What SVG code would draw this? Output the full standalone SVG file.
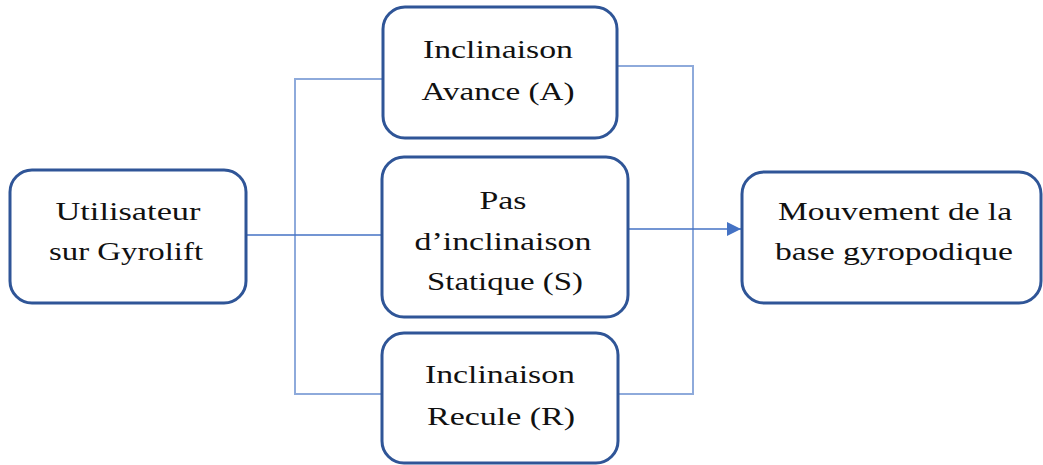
<svg xmlns="http://www.w3.org/2000/svg" width="1043" height="465" viewBox="0 0 1043 465">
<style>
.box{fill:#fff;stroke:#2F5597;stroke-width:3}
.t{font-family:'Liberation Serif','DejaVu Serif','Times New Roman',serif;font-size:26px;fill:#111;text-anchor:middle}
.c{fill:none;stroke:#4472C4;stroke-width:1.6}
.cl{fill:none;stroke:#8EAADB;stroke-width:2}
</style>
<defs>
<marker id="ah" markerWidth="14" markerHeight="14" refX="14" refY="7" orient="auto" markerUnits="userSpaceOnUse">
<path d="M0,0 L14,7 L0,14 z" fill="#4472C4"/>
</marker>
</defs>
<rect width="1043" height="465" fill="#fff"/>
<g id="connectors">
<path class="cl" d="M383,79 H295 V394 H383"/>
<path class="c" d="M246,235 H383"/>
<path class="cl" d="M617,66 H693 V394 H617"/>
<path class="c" d="M628,229 H741" marker-end="url(#ah)"/>
</g>
<g id="n-user">
<rect class="box" x="10" y="170" width="236" height="133" rx="22"/>
<text class="t" x="128" y="220" textLength="145" lengthAdjust="spacingAndGlyphs">Utilisateur</text>
<text class="t" x="126" y="260" textLength="154" lengthAdjust="spacingAndGlyphs">sur Gyrolift</text>
</g>
<g id="n-avance">
<rect class="box" x="383" y="7" width="234" height="131" rx="22"/>
<text class="t" x="498" y="58" textLength="150" lengthAdjust="spacingAndGlyphs">Inclinaison</text>
<text class="t" x="498" y="100" textLength="153" lengthAdjust="spacingAndGlyphs">Avance (A)</text>
</g>
<g id="n-statique">
<rect class="box" x="382" y="157" width="246" height="160" rx="22"/>
<text class="t" x="503" y="209" textLength="47" lengthAdjust="spacingAndGlyphs">Pas</text>
<text class="t" x="503" y="250" textLength="177" lengthAdjust="spacingAndGlyphs">d’inclinaison</text>
<text class="t" x="505" y="290" textLength="156" lengthAdjust="spacingAndGlyphs">Statique (S)</text>
</g>
<g id="n-recule">
<rect class="box" x="382" y="333" width="236" height="130" rx="22"/>
<text class="t" x="500" y="383" textLength="150" lengthAdjust="spacingAndGlyphs">Inclinaison</text>
<text class="t" x="501" y="425" textLength="148" lengthAdjust="spacingAndGlyphs">Recule (R)</text>
</g>
<g id="n-mouvement">
<rect class="box" x="742" y="172" width="299" height="131" rx="22"/>
<text class="t" x="895" y="220" textLength="234" lengthAdjust="spacingAndGlyphs">Mouvement de la</text>
<text class="t" x="894" y="260" textLength="238" lengthAdjust="spacingAndGlyphs">base gyropodique</text>
</g>
</svg>
